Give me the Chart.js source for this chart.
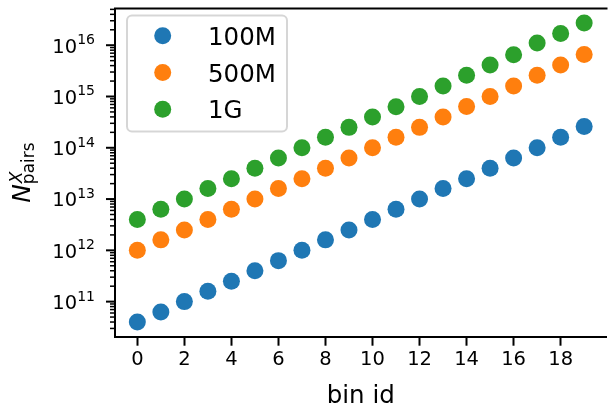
<!DOCTYPE html>
<html>
<head>
<meta charset="utf-8">
<script src="https://cdn.jsdelivr.net/npm/chart.js@4/dist/chart.umd.min.js"></script>
<style>
  html, body { margin: 0; padding: 0; overflow: hidden; background: #fff; }
</style>
</head>
<body>
<canvas id="chart" width="615" height="411"></canvas>
<script>
// Data
const bins = [0, 1, 2, 3, 4, 5, 6, 7, 8, 9, 10, 11, 12, 13, 14, 15, 16, 17, 18, 19];
const pairs100M = [4.0e10, 6.3e10, 1.0e11, 1.6e11, 2.5e11, 4.0e11, 6.3e11, 1.0e12, 1.6e12, 2.5e12,
                   4.0e12, 6.3e12, 1.0e13, 1.6e13, 2.5e13, 4.0e13, 6.3e13, 1.0e14, 1.6e14, 2.6e14];
const pairs500M = [1.0e12, 1.6e12, 2.5e12, 4.0e12, 6.3e12, 1.0e13, 1.6e13, 2.5e13, 4.0e13, 6.3e13,
                   1.0e14, 1.6e14, 2.5e14, 4.0e14, 6.4e14, 1.0e15, 1.6e15, 2.6e15, 4.1e15, 6.6e15];
const pairs1G = [4.0e12, 6.3e12, 1.0e13, 1.6e13, 2.5e13, 4.0e13, 6.3e13, 1.0e14, 1.6e14, 2.5e14,
                 4.0e14, 6.3e14, 1.0e15, 1.6e15, 2.6e15, 4.1e15, 6.5e15, 1.1e16, 1.7e16, 2.7e16];
const seriesLabels = ['100M', '500M', '1G'];
const seriesColors = ['#1f77b4', '#ff7f0e', '#2ca02c'];
const xTicks = [0, 2, 4, 6, 8, 10, 12, 14, 16, 18];
const yDecades = [11, 12, 13, 14, 15, 16];

const FONT = '"DejaVu Sans", sans-serif';

function toPoints(values) {
    return values.map((v, i) => ({ x: bins[i], y: v }));
}

// Axis decorations matplotlib-style: top spine, log ticks, 10^n labels, titles
const axisDecor = {
    id: 'axisDecor',
    afterDraw(chart) {
        const ctx = chart.ctx;
        const area = chart.chartArea;
        const y = chart.scales.y;
        ctx.save();
        ctx.strokeStyle = '#000';
        ctx.fillStyle = '#000';

        // top spine
        ctx.lineWidth = 2;
        ctx.beginPath();
        ctx.moveTo(area.left - 1, area.top);
        ctx.lineTo(area.right + 1, area.top);
        ctx.stroke();

        // major / minor log ticks
        for (let e = 10; e <= 17; e++) {
            for (let m = 1; m <= 9; m++) {
                const v = m * Math.pow(10, e);
                if (v < y.min || v > y.max) continue;
                const py = y.getPixelForValue(v);
                const major = m === 1;
                ctx.lineWidth = major ? 2 : 1.5;
                ctx.beginPath();
                ctx.moveTo(area.left - (major ? 9 : 5), py);
                ctx.lineTo(area.left, py);
                ctx.stroke();
            }
        }

        // 10^n labels
        const rightEdge = area.left - 20;
        ctx.textBaseline = 'alphabetic';
        ctx.textAlign = 'left';
        yDecades.forEach(d => {
            const py = y.getPixelForValue(Math.pow(10, d));
            ctx.font = '14px ' + FONT;
            const wExp = ctx.measureText(String(d)).width;
            ctx.font = '19.5px ' + FONT;
            const wBase = ctx.measureText('10').width;
            ctx.fillText('10', rightEdge - wExp - wBase, py + 7.3);
            ctx.font = '14px ' + FONT;
            ctx.fillText(String(d), rightEdge - wExp, py - 1);
        });

        // x title
        ctx.font = '24.5px ' + FONT;
        ctx.textAlign = 'center';
        ctx.fillText('bin id', (area.left + area.right) / 2, 402.5);

        // y title: N^X_pairs, rotated
        ctx.translate(30, (area.top + area.bottom) / 2);
        ctx.rotate(-Math.PI / 2);
        ctx.textAlign = 'left';
        ctx.font = 'italic 25px ' + FONT;
        const wN = ctx.measureText('N').width;
        ctx.font = '17px ' + FONT;
        const wSub = ctx.measureText('pairs').width;
        const u0 = -(wN + wSub) / 2;
        ctx.font = 'italic 25px ' + FONT;
        ctx.fillText('N', u0, 0);
        ctx.font = 'italic 17px ' + FONT;
        ctx.fillText('X', u0 + wN + 1, -8);
        ctx.font = '17px ' + FONT;
        ctx.fillText('pairs', u0 + wN, 4);
        ctx.restore();

        // legend box
        ctx.save();
        ctx.beginPath();
        ctx.roundRect(127, 15.5, 160, 116, 5);
        ctx.fillStyle = 'rgba(255,255,255,0.8)';
        ctx.fill();
        ctx.lineWidth = 2;
        ctx.strokeStyle = 'rgba(204,204,204,0.8)';
        ctx.stroke();
        chart.data.datasets.forEach((ds, i) => {
            const cy = 35.7 + i * 36.8;
            ctx.beginPath();
            ctx.arc(162.7, cy, 8.5, 0, Math.PI * 2);
            ctx.fillStyle = ds.backgroundColor;
            ctx.fill();
            ctx.fillStyle = '#000';
            ctx.font = '24.5px ' + FONT;
            ctx.textBaseline = 'alphabetic';
            ctx.fillText(ds.label, 208, cy + 9);
        });
        ctx.restore();
    }
};

new Chart(document.getElementById('chart'), {
    type: 'scatter',
    data: {
        datasets: [pairs100M, pairs500M, pairs1G].map((vals, i) => ({
            label: seriesLabels[i],
            data: toPoints(vals),
            backgroundColor: seriesColors[i],
            borderColor: seriesColors[i],
            borderWidth: 0,
            pointRadius: 8.5,
            pointHoverRadius: 8.5
        }))
    },
    options: {
        responsive: false,
        animation: false,
        clip: false,
        layout: { padding: { top: 3, right: 2.5, left: 0, bottom: 0 } },
        scales: {
            x: {
                type: 'linear',
                min: -0.95,
                max: 19.95,
                afterFit: scale => { scale.height = 74.3; },
                afterBuildTicks: axis => { axis.ticks = xTicks.map(v => ({ value: v })); },
                ticks: {
                    includeBounds: false,
                    color: '#000',
                    font: { family: FONT, size: 19.5 },
                    padding: 3,
                    maxRotation: 0
                },
                grid: {
                    display: true,
                    drawOnChartArea: false,
                    drawTicks: true,
                    tickLength: 9,
                    tickWidth: 2,
                    tickColor: '#000'
                },
                border: { display: true, color: '#000', width: 2 }
            },
            y: {
                type: 'logarithmic',
                min: 2.07e10,
                max: 5.2e16,
                afterFit: scale => { scale.width = 115; },
                ticks: { display: false },
                grid: { display: false },
                border: { display: true, color: '#000', width: 2 }
            }
        },
        plugins: {
            legend: { display: false },
            tooltip: { enabled: false }
        }
    },
    plugins: [axisDecor]
});
</script>
</body>
</html>
